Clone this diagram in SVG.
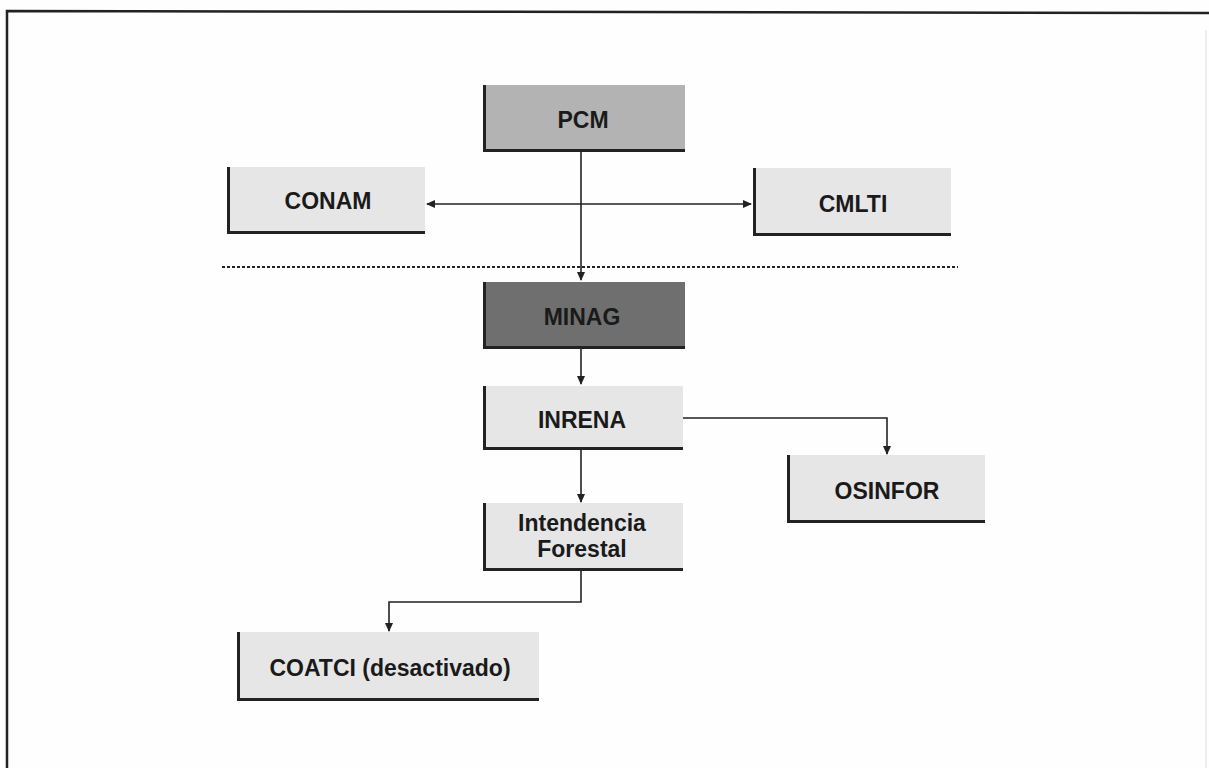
<svg xmlns="http://www.w3.org/2000/svg" width="1209" height="768" viewBox="0 0 1209 768">
<style>
.box{stroke:none}
.light{fill:#e6e6e6}
.mid{fill:#b3b3b3}
.dark{fill:#6f6f6f}
.edge{fill:none;stroke:#222;stroke-width:3}
.lbl{font-family:"Liberation Sans",Arial,sans-serif;font-weight:bold;font-size:23px;fill:#1a1a1a;text-anchor:middle}
.con{fill:none;stroke:#222;stroke-width:1.6}
</style>
<defs>
<marker id="ah" markerWidth="10" markerHeight="10" refX="8" refY="5" orient="auto-start-reverse" markerUnits="userSpaceOnUse">
<path d="M0,1 L9,5 L0,9 Z" fill="#222"/>
</marker>
</defs>
<rect x="0" y="0" width="1209" height="768" fill="#fefefe"/>
<path d="M7,768 L7,11 L1209,13" fill="none" stroke="#222" stroke-width="2.5"/>
<line x1="1206" y1="30" x2="1206" y2="768" stroke="#ddd" stroke-width="1"/>

<g id="connectors">
<line class="con" x1="581" y1="152" x2="581" y2="280" marker-end="url(#ah)"/>
<line class="con" x1="427" y1="204" x2="751" y2="204" marker-start="url(#ah)" marker-end="url(#ah)"/>
<line x1="222" y1="267" x2="958" y2="267" stroke="#222" stroke-width="2" stroke-dasharray="3,2"/>
<line class="con" x1="581" y1="349" x2="581" y2="384" marker-end="url(#ah)"/>
<path class="con" d="M683,418 L887,418 L887,454" marker-end="url(#ah)"/>
<line class="con" x1="581" y1="450" x2="581" y2="502" marker-end="url(#ah)"/>
<path class="con" d="M581,571 L581,602 L389,602 L389,631" marker-end="url(#ah)"/>
</g>

<g id="pcm">
<rect class="box mid" x="483" y="85" width="202" height="67"/>
<path class="edge" d="M484.5,85 L484.5,150.5 L685,150.5"/>
<text class="lbl" x="583" y="128">PCM</text>
</g>
<g id="conam">
<rect class="box light" x="227" y="167" width="198" height="67"/>
<path class="edge" d="M228.5,167 L228.5,232.5 L425,232.5"/>
<text class="lbl" x="328" y="209">CONAM</text>
</g>
<g id="cmlti">
<rect class="box light" x="753" y="168" width="198" height="68"/>
<path class="edge" d="M754.5,168 L754.5,234.5 L951,234.5"/>
<text class="lbl" x="853" y="212">CMLTI</text>
</g>
<g id="minag">
<rect class="box dark" x="483" y="282" width="202" height="67"/>
<path class="edge" d="M484.5,282 L484.5,347.5 L685,347.5"/>
<text class="lbl" x="582" y="325">MINAG</text>
</g>
<g id="inrena">
<rect class="box light" x="483" y="386" width="200" height="64"/>
<path class="edge" d="M484.5,386 L484.5,448.5 L683,448.5"/>
<text class="lbl" x="582" y="428">INRENA</text>
</g>
<g id="osinfor">
<rect class="box light" x="787" y="455" width="198" height="68"/>
<path class="edge" d="M788.5,455 L788.5,521.5 L985,521.5"/>
<text class="lbl" x="887" y="499">OSINFOR</text>
</g>
<g id="intendencia">
<rect class="box light" x="483" y="503" width="200" height="68"/>
<path class="edge" d="M484.5,503 L484.5,569.5 L683,569.5"/>
<text class="lbl" x="582" y="531">Intendencia</text>
<text class="lbl" x="582" y="557">Forestal</text>
</g>
<g id="coatci">
<rect class="box light" x="237" y="632" width="302" height="69"/>
<path class="edge" d="M238.5,632 L238.5,699.5 L539,699.5"/>
<text class="lbl" x="390" y="676">COATCI (desactivado)</text>
</g>
</svg>
